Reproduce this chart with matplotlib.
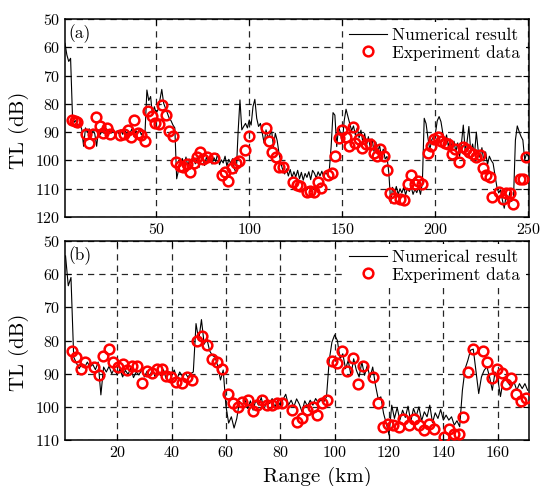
import numpy as np
import matplotlib
matplotlib.use("Agg")
import matplotlib.pyplot as plt

plt.rcParams['font.family'] = 'serif'
plt.rcParams['font.serif'] = ['cmr10', 'DejaVu Serif']
plt.rcParams['mathtext.fontset'] = 'cm'
plt.rcParams['axes.formatter.use_mathtext'] = True

# ---- panel (a): numerical result, 1 km steps from 1 km ----
a_tl = [58.6, 62.7, 65.0, 63.9, 84.0, 86.5, 85.8, 88.5, 87.2, 89.0,
        95.0, 88.5, 90.2, 88.8, 91.3, 89.0, 90.6, 95.0, 89.2, 90.8,
        89.0, 90.5, 88.6, 91.0, 89.8, 90.3, 88.9, 91.2, 89.5, 90.6,
        89.2, 90.8, 88.7, 91.3, 89.6, 90.2, 88.8, 91.5, 89.4, 90.4,
        88.9, 91.0, 89.7, 90.0, 75.1, 78.8, 77.4, 84.0, 81.0, 83.3,
        82.0, 78.6, 74.9, 79.8, 81.5, 83.3, 85.1, 86.0, 87.5, 88.5,
        106.5, 103.4, 101.0, 99.3, 101.6, 98.8, 102.0, 99.5, 100.8, 98.6,
        101.2, 99.0, 102.5, 100.0, 99.2, 101.8, 98.7, 100.6, 99.4, 101.3,
        99.0, 100.4, 97.6, 101.5, 99.8, 100.9, 98.5, 102.0, 99.6, 101.0,
        99.4, 103.0, 104.5, 90.0, 78.6, 89.2, 88.0, 86.9, 88.5, 85.7,
        87.5, 81.0, 78.4, 85.1, 88.0, 86.9, 90.5, 93.9, 89.2, 92.0,
        91.0, 89.5, 95.1, 90.4, 93.0, 97.5, 101.0, 103.4, 104.8, 103.0,
        105.5, 103.2, 106.0, 104.0, 105.8, 103.5, 106.5, 104.2, 107.0, 104.6,
        106.0, 104.0, 106.8, 103.5, 104.5, 106.2, 104.0, 105.5, 103.8, 106.0,
        104.2, 105.0, 103.5, 95.0, 83.1, 84.0, 95.1, 88.0, 90.4, 93.9,
        86.0, 81.9, 84.5, 87.0, 89.5, 87.8, 91.0, 88.5, 92.0, 89.3,
        93.5, 90.5, 94.8, 91.6, 95.5, 92.4, 96.8, 93.5, 97.2, 94.6,
        98.6, 96.0, 99.5, 98.6, 104.5, 115.1, 109.5, 111.8, 109.2, 112.0,
        110.0, 111.5, 109.4, 112.2, 109.8, 111.0, 109.3, 112.0, 110.2, 111.4,
        109.5, 112.0, 108.0, 85.1, 87.0, 92.0, 96.3, 92.8, 91.6, 90.5,
        86.0, 84.5, 86.3, 90.4, 93.5, 91.0, 95.2, 92.4, 96.0, 93.2,
        97.0, 93.8, 98.6, 94.0, 87.5, 96.5, 93.5, 88.0, 97.0, 94.2,
        98.0, 90.0, 96.5, 99.0, 95.5, 100.2, 97.0, 101.5, 98.5, 100.0,
        101.0, 105.0, 109.2, 111.5, 110.4, 114.0, 116.9, 112.5, 115.0, 111.2,
        114.5, 113.0, 92.8, 87.8, 89.8, 91.5, 92.8, 99.8, 97.5, 98.6]
a_range = np.arange(1, len(a_tl) + 1)

# ---- panel (a): experiment ----
a_exp_r = [4.5, 6.2, 7.5, 12.1, 14.0, 16.1, 17.7, 19.7, 21.4, 23.4,
           25.4, 30.7, 32.5, 34.7, 36.5, 38.2, 40.1, 42.0, 44.0, 45.8,
           47.6, 49.5, 51.5, 53.2, 55.2, 57.0, 59.0, 60.9, 62.6, 64.6,
           66.5, 68.3, 70.1, 71.9, 73.8, 75.4, 77.4, 81.2, 85.1, 86.7,
           88.5, 90.7, 92.8, 94.6, 97.8, 99.6, 109.0, 110.8, 112.2, 114.5,
           116.1, 118.1, 123.3, 125.4, 127.4, 131.0, 132.8, 134.9, 136.7, 138.7,
           142.1, 144.5, 146.2, 148.0, 149.8, 152.0, 153.6, 155.5, 157.0, 159.1,
           160.8, 162.7, 165.1, 166.8, 168.7, 170.4, 172.2, 174.0, 175.4, 178.0,
           181.2, 183.3, 185.1, 186.9, 188.9, 190.5, 192.8, 195.9, 197.7, 199.1,
           201.2, 203.2, 205.0, 206.8, 209.0, 210.8, 212.9, 214.7, 216.5, 218.3,
           220.1, 221.9, 224.2, 225.4, 227.3, 229.6, 230.5, 234.4, 236.2, 238.2,
           240.0, 241.8, 245.2, 246.9, 248.9]
a_exp_tl = [85.8, 86.0, 86.3, 90.6, 93.8, 90.5, 84.6, 88.0, 90.3, 88.4,
            90.8, 91.0, 90.8, 89.4, 91.8, 85.8, 90.4, 91.1, 93.3, 82.5,
            84.3, 86.9, 87.1, 80.4, 83.9, 89.6, 91.3, 100.7, 101.9, 102.2,
            101.1, 104.0, 100.8, 98.7, 97.1, 99.5, 98.7, 99.0, 105.1, 104.0,
            107.4, 102.5, 101.0, 100.1, 96.4, 91.3, 88.6, 93.3, 96.9, 98.9,
            102.2, 102.2, 107.8, 108.7, 109.1, 111.0, 110.8, 111.2, 107.8, 109.6,
            105.1, 104.5, 98.4, 91.9, 89.2, 91.8, 94.8, 88.3, 93.9, 92.5,
            95.7, 94.3, 94.3, 97.2, 98.3, 96.0, 98.3, 103.4, 111.6, 113.4,
            113.6, 114.0, 108.3, 105.1, 108.3, 107.1, 108.4, 97.2, 94.8, 92.5,
            91.8, 93.1, 93.7, 94.3, 97.8, 96.0, 100.4, 95.1, 96.0, 96.9,
            97.7, 98.9, 98.1, 102.8, 105.1, 105.7, 112.8, 111.0, 113.7, 111.6,
            111.6, 115.4, 106.6, 106.6, 98.7]

# ---- panel (b): numerical result, 1 km steps from 1 km ----
b_tl = [54.5, 63.5, 61.0, 85.0, 86.8, 88.5, 87.0, 88.2, 86.5, 88.0,
        87.2, 88.8, 86.5, 96.4, 88.0, 89.5, 87.8, 90.0, 88.4, 90.5,
        88.6, 91.0, 89.0, 90.2, 88.3, 91.2, 89.5, 90.4, 88.8, 91.0,
        89.2, 90.8, 88.5, 91.2, 89.0, 90.6, 88.8, 91.5, 89.3, 90.7,
        88.9, 91.6, 89.5, 90.8, 89.8, 91.0, 90.0, 89.5, 74.9, 79.9,
        73.7, 81.1, 79.5, 83.1, 84.5, 85.0, 87.7, 91.9, 88.9, 99.7,
        104.9, 103.0, 106.4, 103.5, 98.3, 99.5, 97.8, 100.5, 98.2, 101.0,
        98.0, 99.5, 97.2, 100.8, 98.4, 99.0, 97.5, 100.2, 98.0, 99.6,
        97.8, 96.2, 99.5, 98.0, 100.0, 97.6, 99.2, 101.5, 98.2, 99.8,
        98.0, 99.5, 97.5, 98.8, 97.9, 98.5, 97.0, 86.0, 80.5, 78.3,
        80.0, 85.5, 84.0, 88.5, 86.0, 90.5, 85.5, 89.0, 91.0, 86.5,
        90.5, 87.5, 91.2, 88.0, 93.4, 97.5, 97.0, 102.0, 105.0, 108.5,
        99.5, 103.5, 100.2, 104.0, 101.0, 103.2, 99.8, 104.5, 100.5, 102.8,
        100.0, 104.2, 101.5, 103.0, 99.5, 104.8, 101.8, 103.5, 100.8, 104.0,
        102.5, 104.0, 103.0, 105.5, 104.2, 106.0, 95.0, 88.5, 86.0, 82.9,
        82.6, 89.4, 96.0, 91.0, 89.0, 87.9, 91.0, 95.0, 89.5, 91.5,
        96.9, 92.0, 91.1, 93.0, 94.0, 92.5, 95.0, 93.0, 94.5, 93.0,
        95.0]
b_range = np.arange(1, len(b_tl) + 1)

# ---- panel (b): experiment ----
b_exp_r = [3.3, 4.7, 6.6, 8.2, 11.5, 13.4, 14.9, 16.9, 18.6, 20.2,
           22.0, 23.7, 25.6, 27.3, 29.0, 31.0, 32.8, 34.5, 36.4, 37.9,
           39.8, 41.6, 43.7, 45.6, 47.6, 49.2, 51.3, 53.1, 54.9, 56.8,
           58.6, 60.6, 62.5, 64.4, 66.0, 68.0, 69.8, 71.5, 73.4, 75.2,
           77.0, 78.9, 80.7, 84.4, 86.0, 88.0, 89.9, 91.9, 93.6, 95.2,
           97.2, 99.1, 100.9, 102.8, 104.6, 106.6, 108.6, 110.5, 114.2, 116.0,
           117.8, 119.7, 121.5, 123.5, 125.3, 127.2, 129.1, 131.0, 132.8, 134.6,
           136.5, 140.1, 142.0, 143.8, 145.7, 147.2, 149.1, 150.9, 154.4, 156.2,
           157.9, 159.7, 161.4, 163.2, 164.8, 166.6, 168.5, 170.3]
b_exp_tl = [83.1, 85.1, 88.6, 86.4, 87.9, 90.4, 84.6, 82.6, 86.4, 87.9,
            87.1, 88.9, 87.6, 87.6, 92.8, 89.1, 89.7, 88.6, 88.6, 90.6,
            90.9, 92.6, 92.8, 91.1, 91.9, 80.3, 78.6, 81.3, 85.5, 86.4,
            88.6, 96.2, 98.9, 100.2, 98.4, 97.9, 101.2, 99.4, 97.9, 99.4,
            99.4, 98.9, 98.7, 101.1, 104.6, 103.4, 101.1, 100.2, 102.4, 98.9,
            97.9, 86.1, 86.8, 83.1, 89.2, 85.3, 93.1, 87.6, 91.1, 98.9,
            106.1, 105.1, 105.4, 106.1, 103.7, 105.6, 103.7, 105.6, 106.9, 105.2,
            106.6, 109.1, 106.6, 108.2, 108.1, 103.1, 89.4, 82.6, 83.1, 86.4,
            91.4, 88.6, 89.8, 93.1, 91.4, 96.2, 98.1, 97.4]

fig = plt.figure(figsize=(5.47, 4.86), dpi=100)
ax1 = fig.add_axes([65/547, 1 - 217/486, 464/547, 198/486])
ax2 = fig.add_axes([65/547, 1 - 440/486, 464/547, 199/486])

panels = [
    (ax1, a_range, a_tl, a_exp_r, a_exp_tl, (1, 250.3), (120, 50), '(a)'),
    (ax2, b_range, b_tl, b_exp_r, b_exp_tl, (0.8, 171.5), (110, 50), '(b)'),
]
for ax, r, tl, er, etl, xl, yl, tag in panels:
    ax.plot(r, tl, color='k', lw=0.8, label='Numerical result', zorder=3)
    ax.plot(er, etl, 'o', ms=7, mfc='none', mec='red', mew=1.8,
            label='Experiment data', zorder=4)
    ax.set_xlim(*xl)
    ax.set_ylim(*yl)
    ax.grid(True, color='k', ls=(0, (5, 4)), lw=0.9, alpha=0.85)
    ax.set_axisbelow(True)
    ax.tick_params(direction='in', top=True, right=True, length=4,
                   labelsize=11.5, width=0.8)
    for s in ax.spines.values():
        s.set_linewidth(1.1)
    ax.set_ylabel('TL (dB)', fontsize=15)
    ax.yaxis.set_label_coords(-0.077, 0.44)
    ax.text(0.008, 0.975, tag, transform=ax.transAxes, ha='left', va='top',
            fontsize=12.5)
    leg = ax.legend(loc='upper right', fontsize=12.5, handlelength=2.2,
                    handletextpad=0.3, borderaxespad=0.2, labelspacing=0.1,
                    borderpad=0.3, fancybox=False, framealpha=1)
    leg.get_frame().set_edgecolor('none')

ax1.set_xticks([50, 100, 150, 200, 250])
ax1.set_yticks(range(50, 121, 10))
ax2.set_xticks(range(20, 161, 20))
ax2.set_yticks(range(50, 111, 10))
ax2.set_xlabel('Range (km)', fontsize=15)
ax2.xaxis.set_label_coords(0.543, -0.135)

fig.savefig('out.png', dpi=100)
